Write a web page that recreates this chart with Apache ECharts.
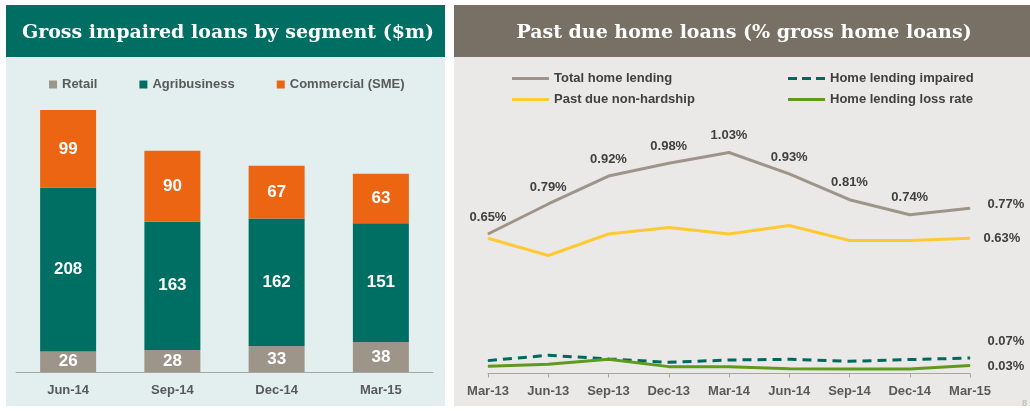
<!DOCTYPE html>
<html>
<head>
<meta charset="utf-8">
<script src="https://cdn.jsdelivr.net/npm/echarts@6/dist/echarts.min.js"></script>
<style>
  html, body { margin: 0; padding: 0; background: #ffffff; }
  #main { width: 1030px; height: 411px; }
</style>
</head>
<body>
<div id="main"></div>
<script>
// left chart: gross impaired loans ($m)
var quarters = ['Jun-14', 'Sep-14', 'Dec-14', 'Mar-15'];
var retail = [26, 28, 33, 38];
var agribusiness = [208, 163, 162, 151];
var commercial = [99, 90, 67, 63];

// right chart: past due home loans (% of gross home loans)
var periods = ['Mar-13', 'Jun-13', 'Sep-13', 'Dec-13', 'Mar-14', 'Jun-14', 'Sep-14', 'Dec-14', 'Mar-15'];
var totalLending = [0.65, 0.79, 0.92, 0.98, 1.03, 0.93, 0.81, 0.74, 0.77];
var pastDueNonHardship = [0.63, 0.55, 0.65, 0.68, 0.65, 0.69, 0.62, 0.62, 0.63];
var lendingImpaired = [0.06, 0.085, 0.068, 0.052, 0.063, 0.066, 0.057, 0.065, 0.072];
var lossRate = [0.034, 0.043, 0.066, 0.032, 0.032, 0.022, 0.021, 0.021, 0.037];

var labelGrey = '#404040';
var solidIcon = 'path://M0,0h37v3h-37z';
var dashIcon = 'path://M0,0h9v3h-9z M14,0h9v3h-9z M28,0h9v3h-9z';

function lastLabel(arr, text, distance, dy) {
  return arr.map(function (v, i) {
    if (i !== arr.length - 1) return v;
    return {
      value: v,
      label: {
        show: true, position: 'right', distance: distance, offset: [0, dy],
        formatter: text, color: labelGrey, fontSize: 13, fontWeight: 'bold'
      }
    };
  });
}

var totalData = totalLending.map(function (v, i) {
  if (i === totalLending.length - 1) {
    return { value: v, label: { position: 'right', distance: 17, offset: [0, -4] } };
  }
  return v;
});

var barLabel = { show: true, color: '#ffffff', fontSize: 17, fontWeight: 'bold', fontFamily: 'Liberation Sans' };

var chartDom = document.getElementById('main');
var myChart = echarts.init(chartDom);
var option;

option = {
  animation: false,
  textStyle: { fontFamily: 'Liberation Sans' },
  graphic: [
    { type: 'rect', z: -10, shape: { x: 6, y: 57, width: 439, height: 349 }, style: { fill: '#E2EFEE' } },
    { type: 'rect', z: -10, shape: { x: 6, y: 5, width: 439, height: 52 }, style: { fill: '#006E63' } },
    { type: 'rect', z: -10, shape: { x: 454, y: 57, width: 576, height: 349 }, style: { fill: '#EAE9E7' } },
    { type: 'rect', z: -10, shape: { x: 454, y: 5, width: 576, height: 52 }, style: { fill: '#787064' } },
    { type: 'text', left: 1022, top: 399, style: { text: '8', fill: '#b0b0b0', fontSize: 9 } }
  ],
  title: [
    {
      text: 'Gross impaired loans by segment ($m)',
      left: 223, top: 19, textAlign: 'center',
      textStyle: { color: '#ffffff', fontFamily: 'DejaVu Serif', fontWeight: 'bold', fontSize: 19 }
    },
    {
      text: 'Past due home loans (% gross home loans)',
      left: 739, top: 19, textAlign: 'center',
      textStyle: { color: '#ffffff', fontFamily: 'DejaVu Serif', fontWeight: 'bold', fontSize: 19 }
    }
  ],
  legend: [
    {
      data: ['Retail', 'Agribusiness', 'Commercial (SME)'],
      left: 44, top: 73, itemWidth: 8, itemHeight: 8, itemGap: 42,
      icon: 'rect',
      textStyle: { color: '#595959', fontSize: 13, fontWeight: 'bold' }
    },
    {
      data: [
        { name: 'Total home lending', icon: solidIcon },
        { name: 'Past due non-hardship', icon: solidIcon }
      ],
      orient: 'vertical', left: 507, top: 67, itemWidth: 37, itemHeight: 3, itemGap: 8,
      textStyle: { color: labelGrey, fontSize: 13, fontWeight: 'bold' }
    },
    {
      data: [
        { name: 'Home lending impaired', icon: dashIcon },
        { name: 'Home lending loss rate', icon: solidIcon }
      ],
      orient: 'vertical', left: 783, top: 67, itemWidth: 37, itemHeight: 3, itemGap: 8,
      textStyle: { color: labelGrey, fontSize: 13, fontWeight: 'bold' }
    }
  ],
  grid: [
    { left: 16, width: 417, top: 96.5, height: 275.5 },
    { left: 488, width: 482, top: 116, height: 257.5 }
  ],
  xAxis: [
    {
      type: 'category', gridIndex: 0, data: quarters,
      axisLine: { lineStyle: { color: '#A6A6A6' } },
      axisTick: { length: 4, lineStyle: { color: '#A6A6A6' } },
      axisLabel: { color: '#595959', fontSize: 13, fontWeight: 'bold', margin: 12 }
    },
    {
      type: 'category', gridIndex: 1, data: periods, boundaryGap: false,
      axisLine: { lineStyle: { color: '#A6A6A6' } },
      axisTick: { length: 4, lineStyle: { color: '#A6A6A6' } },
      axisLabel: { color: '#595959', fontSize: 13, fontWeight: 'bold', margin: 11 }
    }
  ],
  yAxis: [
    { type: 'value', gridIndex: 0, min: 0, max: 350, show: false },
    { type: 'value', gridIndex: 1, min: 0, max: 1.2, show: false }
  ],
  series: [
    {
      name: 'Retail', type: 'bar', stack: 'seg', barWidth: 56,
      xAxisIndex: 0, yAxisIndex: 0, data: retail,
      itemStyle: { color: '#9E958A' }, label: barLabel
    },
    {
      name: 'Agribusiness', type: 'bar', stack: 'seg', barWidth: 56,
      xAxisIndex: 0, yAxisIndex: 0, data: agribusiness,
      itemStyle: { color: '#006F63' }, label: barLabel
    },
    {
      name: 'Commercial (SME)', type: 'bar', stack: 'seg', barWidth: 56,
      xAxisIndex: 0, yAxisIndex: 0, data: commercial,
      itemStyle: { color: '#EB6513' }, label: barLabel
    },
    {
      name: 'Total home lending', type: 'line', xAxisIndex: 1, yAxisIndex: 1,
      symbol: 'circle', symbolSize: 1, data: totalData,
      lineStyle: { color: '#9E958A', width: 3 }, itemStyle: { color: '#9E958A' },
      label: {
        show: true, position: 'top', distance: 10,
        color: labelGrey, fontSize: 13, fontWeight: 'bold',
        formatter: function (p) { return p.value.toFixed(2) + '%'; }
      }
    },
    {
      name: 'Past due non-hardship', type: 'line', xAxisIndex: 1, yAxisIndex: 1,
      symbol: 'circle', symbolSize: 1, data: lastLabel(pastDueNonHardship, '0.63%', 13, 0),
      lineStyle: { color: '#FFC934', width: 3 }, itemStyle: { color: '#FFC934' }
    },
    {
      name: 'Home lending impaired', type: 'line', xAxisIndex: 1, yAxisIndex: 1,
      symbol: 'circle', symbolSize: 1, data: lastLabel(lendingImpaired, '0.07%', 17, -17),
      lineStyle: { color: '#00695F', width: 3, type: [9, 6] }, itemStyle: { color: '#00695F' }
    },
    {
      name: 'Home lending loss rate', type: 'line', xAxisIndex: 1, yAxisIndex: 1,
      symbol: 'circle', symbolSize: 1, data: lastLabel(lossRate, '0.03%', 17, 1),
      lineStyle: { color: '#5E9A1E', width: 3 }, itemStyle: { color: '#5E9A1E' }
    }
  ]
};

option && myChart.setOption(option);
</script>
</body>
</html>
